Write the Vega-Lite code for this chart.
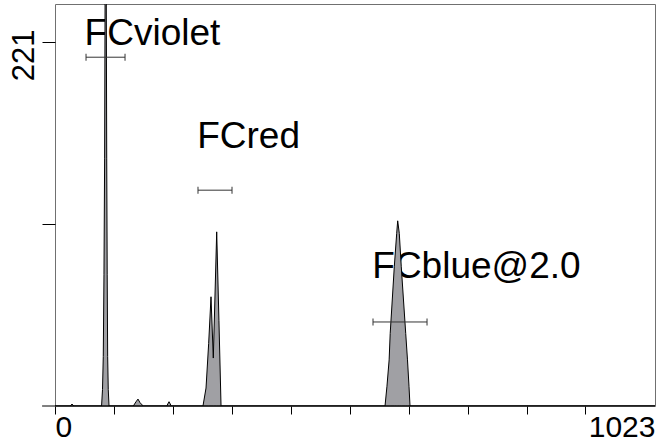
{
  "$schema": "https://vega.github.io/schema/vega-lite/v6.json",
  "width": 600,
  "height": 402,
  "autosize": {"type": "none"},
  "padding": {"left": 55, "top": 4, "right": 5, "bottom": 40},
  "background": "white",
  "config": {
    "view": {"stroke": "#707070", "strokeWidth": 1},
    "font": "Liberation Sans"
  },
  "resolve": {"axis": {"x": "independent"}},
  "datasets": {
    "hist": [
      {"ch": 0, "count": 0},
      {"ch": 26, "count": 0},
      {"ch": 29, "count": 1.2},
      {"ch": 32, "count": 0},
      {"ch": 79.4, "count": 0},
      {"ch": 81, "count": 10},
      {"ch": 82.3, "count": 30},
      {"ch": 83.5, "count": 80},
      {"ch": 84.6, "count": 150},
      {"ch": 85.4, "count": 250},
      {"ch": 86.4, "count": 1500},
      {"ch": 87.4, "count": 250},
      {"ch": 88.2, "count": 150},
      {"ch": 89, "count": 80},
      {"ch": 89.8, "count": 30},
      {"ch": 90.8, "count": 10},
      {"ch": 92.1, "count": 0},
      {"ch": 133.5, "count": 0},
      {"ch": 138, "count": 2.5},
      {"ch": 141.5, "count": 4.2},
      {"ch": 145, "count": 2},
      {"ch": 150.5, "count": 0},
      {"ch": 190.4, "count": 0},
      {"ch": 194.4, "count": 2.6},
      {"ch": 198.3, "count": 0},
      {"ch": 252.3, "count": 0},
      {"ch": 257.5, "count": 10.9},
      {"ch": 262, "count": 38},
      {"ch": 266, "count": 66.3},
      {"ch": 269.9, "count": 29.1},
      {"ch": 275.7, "count": 105.7},
      {"ch": 279.5, "count": 52},
      {"ch": 283.1, "count": 0},
      {"ch": 562.7, "count": 0},
      {"ch": 566, "count": 12},
      {"ch": 569.7, "count": 28},
      {"ch": 571.5, "count": 44},
      {"ch": 578.5, "count": 84.5},
      {"ch": 582.6, "count": 104.8},
      {"ch": 584.3, "count": 112.4},
      {"ch": 587, "count": 104.8},
      {"ch": 590.4, "count": 84.5},
      {"ch": 598, "count": 44},
      {"ch": 601, "count": 28},
      {"ch": 603.6, "count": 11.7},
      {"ch": 605.3, "count": 0},
      {"ch": 1023, "count": 0}
    ],
    "gates": [
      {"name": "FCviolet", "x1": 52.9, "x2": 119.4, "y": 211.7, "lx": 50.5, "ly": 219},
      {"name": "FCred", "x1": 243.8, "x2": 301.8, "y": 131, "lx": 242.5, "ly": 156.3},
      {"name": "FCblue@2.0", "x1": 542.2, "x2": 634.3, "y": 51, "lx": 541, "ly": 77.5}
    ],
    "baseline": [
      {"x": -22, "x2": 1023, "y": 0}
    ]
  },
  "layer": [
    {
      "data": {"name": "gates"},
      "mark": {"type": "text", "align": "left", "baseline": "alphabetic", "fontSize": 37, "font": "Liberation Sans", "color": "black"},
      "encoding": {
        "x": {"field": "lx", "type": "quantitative", "scale": {"domain": [0, 1023], "nice": false, "zero": false},
          "axis": {
            "values": [0, 100.5, 201, 301.5, 402, 502.5, 603, 703.5, 804, 904.5],
            "labels": false, "domain": false, "grid": false, "title": null,
            "tickSize": 8, "tickColor": "black", "tickWidth": 1
          }},
        "y": {"field": "ly", "type": "quantitative", "scale": {"domain": [0, 244], "nice": false, "zero": false},
          "axis": {
            "values": [110.5, 221],
            "labelExpr": "datum.value == 221 ? '221' : ''",
            "labelAngle": 270,
            "labelAlign": "center",
            "labelBaseline": "alphabetic",
            "labelPadding": 9,
            "labelOffset": 13,
            "labelFontSize": 31,
            "labelFont": "Liberation Sans",
            "labelColor": "black",
            "domain": false, "grid": false, "title": null,
            "tickSize": 13, "tickColor": "black", "tickWidth": 1
          }},
        "text": {"field": "name"}
      }
    },
    {
      "data": {"name": "hist"},
      "mark": {"type": "area", "fill": "#a0a0a4", "stroke": "black", "strokeWidth": 1, "opacity": 1, "clip": true, "interpolate": "linear"},
      "encoding": {
        "x": {"field": "ch", "type": "quantitative", "scale": {"domain": [0, 1023], "nice": false, "zero": false}, "axis": null},
        "y": {"field": "count", "type": "quantitative", "scale": {"domain": [0, 244], "nice": false, "zero": false}}
      }
    },
    {
      "data": {"name": "baseline"},
      "mark": {"type": "rule", "color": "black", "strokeWidth": 1, "clip": false},
      "encoding": {
        "x": {"field": "x", "type": "quantitative", "scale": {"domain": [0, 1023], "nice": false, "zero": false},
          "axis": {
            "orient": "bottom",
            "values": [0, 1023],
            "format": "d",
            "labelFlush": true,
            "ticks": false,
            "domain": false, "grid": false, "title": null,
            "labelBaseline": "alphabetic",
            "labelPadding": 30,
            "labelFontSize": 30,
            "labelFont": "Liberation Sans",
            "labelColor": "black"
          }},
        "x2": {"field": "x2"},
        "y": {"field": "y", "type": "quantitative", "scale": {"domain": [0, 244], "nice": false, "zero": false}}
      }
    },
    {
      "data": {"name": "gates"},
      "mark": {"type": "rule", "color": "#333333", "strokeWidth": 1},
      "encoding": {
        "x": {"field": "x1", "type": "quantitative", "scale": {"domain": [0, 1023], "nice": false, "zero": false}, "axis": null},
        "x2": {"field": "x2"},
        "y": {"field": "y", "type": "quantitative", "scale": {"domain": [0, 244], "nice": false, "zero": false}}
      }
    },
    {
      "data": {"name": "gates"},
      "mark": {"type": "tick", "orient": "vertical", "size": 7, "thickness": 1, "color": "#333333", "opacity": 1},
      "encoding": {
        "x": {"field": "x1", "type": "quantitative", "scale": {"domain": [0, 1023], "nice": false, "zero": false}, "axis": null},
        "y": {"field": "y", "type": "quantitative", "scale": {"domain": [0, 244], "nice": false, "zero": false}}
      }
    },
    {
      "data": {"name": "gates"},
      "mark": {"type": "tick", "orient": "vertical", "size": 7, "thickness": 1, "color": "#333333", "opacity": 1},
      "encoding": {
        "x": {"field": "x2", "type": "quantitative", "scale": {"domain": [0, 1023], "nice": false, "zero": false}, "axis": null},
        "y": {"field": "y", "type": "quantitative", "scale": {"domain": [0, 244], "nice": false, "zero": false}}
      }
    }
  ]
}
